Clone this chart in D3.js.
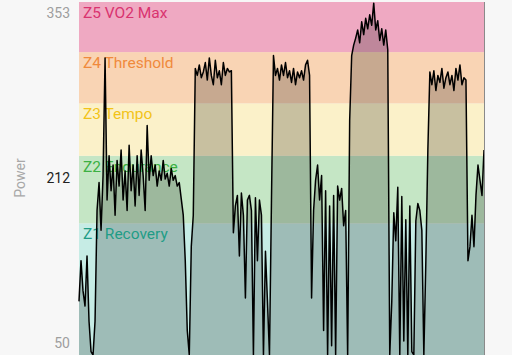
<!DOCTYPE html>
<html><head><meta charset="utf-8">
<script src="https://cdn.jsdelivr.net/npm/d3@7"></script>
<style>
html,body{margin:0;padding:0;background:#f7f7f7;}
svg{display:block;font-family:Roboto,"Noto Sans",sans-serif;}
</style></head>
<body><svg id="c" width="512" height="355"></svg>
<script>
// Power samples (watts), evenly spaced in time
const power = [
  96,131,105,92,135,79,53,50,79,174,
  198,157,204,305,183,221,191,213,170,217,
  195,226,183,208,174,230,191,213,178,221,
  187,226,204,174,247,200,221,204,213,195,
  208,200,217,201,206,195,210,200,204,195,
  198,184,170,131,71,50,143,170,296,290,
  299,288,293,301,286,305,290,282,303,288,
  294,282,301,290,296,293,294,155,178,187,
  135,189,170,99,183,187,174,50,185,131,
  183,170,50,139,96,50,183,307,290,296,
  286,299,290,301,288,294,284,296,282,293,
  288,294,286,299,303,290,99,174,200,213,
  183,204,71,191,50,178,58,187,50,195,
  183,193,161,174,50,251,307,316,322,329,
  318,336,325,339,330,342,333,352,329,337,
  320,330,316,329,312,50,96,172,148,194,
  50,186,62,166,50,178,53,50,165,180,
  174,157,50,131,226,293,282,294,277,290,
  284,296,279,288,293,282,290,277,296,286,
  299,282,288,286,131,143,170,143,187,213,
  200,187,226
];
const zoneNames  = ["Z1 Recovery","Z2 Endurance","Z3 Tempo","Z4 Threshold","Z5 VO2 Max"];
const zoneLow    = [50, 163, 221, 266, 310];
const zoneHigh   = [163, 221, 266, 310, 353];
const zoneFill   = ["#c6ece5","#c5e6c5","#fbf1c9","#f9d4b4","#efa9c2"];
const zoneText   = ["#1f9c86","#3cb043","#f2c318","#f08a3c","#d9336f"];
const yTicks     = [50, 212, 353];
const yTickColor = ["#9e9e9e","#222222","#9e9e9e"];
const yTickShift = [-13, 11, 10];
const yLabel = "Power";

(function(){
const svg = d3.select("#c");
const pL = 79, pR = 484, pT = 2, pB = 355;
const x = d3.scaleLinear().domain([0, power.length - 1]).range([pL, pR]);
const y = d3.scaleLinear().domain([50, 353]).range([pB, pT]);

svg.append("rect").attr("x",0).attr("y",0).attr("width",512).attr("height",355).attr("fill","#f7f7f7");

const zones = zoneNames.map((n,i)=>({name:n, lo:zoneLow[i], hi:zoneHigh[i], fill:zoneFill[i], text:zoneText[i]}));
svg.append("g").selectAll("rect").data(zones).join("rect")
  .attr("x", pL).attr("width", pR - pL)
  .attr("y", d => y(d.hi)).attr("height", d => y(d.lo) - y(d.hi))
  .attr("fill", d => d.fill);

const area = d3.area().x((d,i)=>x(i)).y0(pB).y1(d=>y(d));
svg.append("path").datum(power).attr("d", area).attr("fill","#000").attr("fill-opacity",0.2);

svg.append("g").selectAll("text").data(zones).join("text")
  .attr("x", pL + 4).attr("y", d => y(d.hi) + 16)
  .attr("font-size", 15.5).attr("fill", d => d.text).text(d => d.name);

const line = d3.line().x((d,i)=>x(i)).y(d=>y(d));
svg.append("path").datum(power).attr("d", line).attr("fill","none")
  .attr("stroke","#000").attr("stroke-width",1.5).attr("stroke-linejoin","round");

svg.append("line").attr("x1",pR+0.5).attr("x2",pR+0.5).attr("y1",pT).attr("y2",pB)
  .attr("stroke","#8a8a8a").attr("stroke-width",1);

const ax = svg.append("g").attr("transform",`translate(${pL},0)`)
  .call(d3.axisLeft(y).tickValues(yTicks).tickSize(0).tickPadding(9).tickFormat(d3.format("d")));
ax.select(".domain").remove();
ax.selectAll(".tick text").attr("font-size",14).attr("font-family","Roboto, sans-serif")
  .attr("fill",(d,i)=>yTickColor[i]).attr("dy",(d,i)=>(yTickShift[i]+5)+"px");

svg.append("text").attr("transform","translate(25,178) rotate(-90)")
  .attr("text-anchor","middle").attr("font-size",14).attr("fill","#a8a8a8").text(yLabel);
})();
</script></body></html>
